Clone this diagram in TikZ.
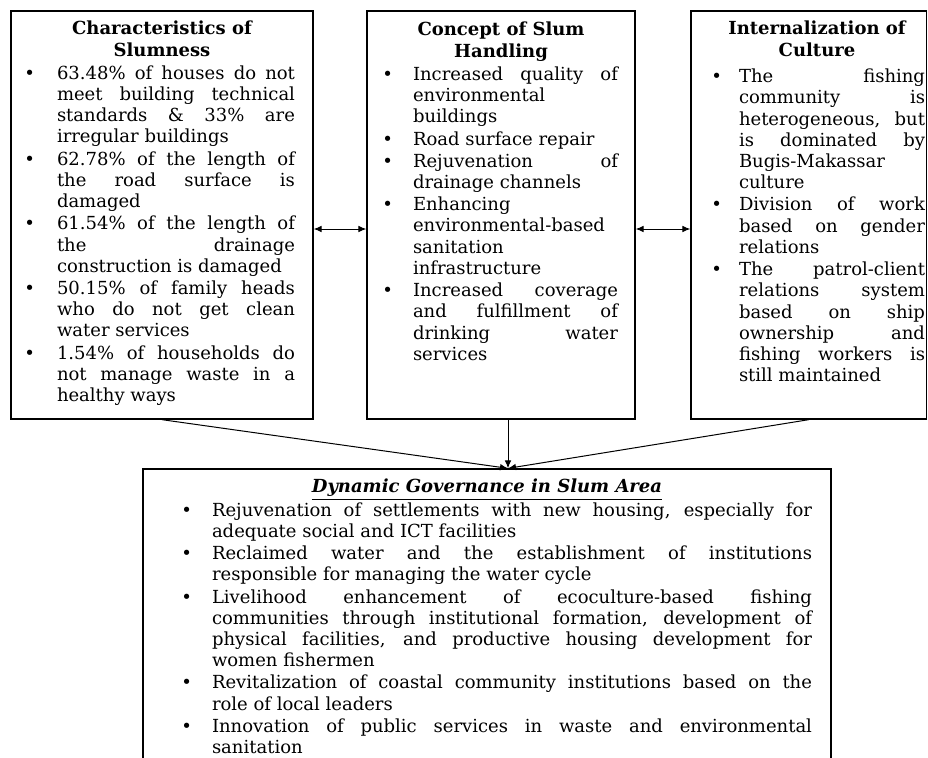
\documentclass[tikz,border=0pt]{standalone}
\usepackage{fontspec}
\setmainfont{DejaVu Serif}
\usepackage{enumitem}
\usetikzlibrary{arrows.meta}
\setlist[itemize]{label=\textbullet,topsep=1.5pt,partopsep=0pt,parsep=0pt,itemsep=0.8pt}
\tolerance=10000 \hyphenpenalty=10000 \exhyphenpenalty=10000 \hbadness=10000

\begin{document}
\begin{tikzpicture}[x=0.75pt,y=-0.75pt,>={Latex[length=6pt,width=5pt]},
  box/.style={draw,line width=1pt,minimum height=306pt,inner sep=0pt},
  boxtext/.style={anchor=north,inner sep=0pt,align=justify,font=\fontsize{13.5}{15.9}\selectfont}]
    \useasboundingbox (0,0) rectangle (928,757);
    \clip (0,0) rectangle (928,757);

    \node[box,minimum width=226.5pt] (charbox) at (162,215) {};
    \node[box,minimum width=201pt] (concbox) at (501,215) {};
    \node[box,minimum width=176.6pt] (cultbox) at (808.75,215) {};
    \node[box,minimum width=516pt,minimum height=240.75pt] (govbox) at (487,629.5) {};

    \node[boxtext,text width=199.5pt] (chartext) at (162,21) {%
      {\centering\bfseries Characteristics of\\ Slumness\par}
      \begin{itemize}[leftmargin=21pt,labelsep=16.5pt]
        \item 63.48\% of houses do not\linebreak meet building technical\linebreak standards \& 33\% are\linebreak irregular buildings
        \item 62.78\% of the length of\linebreak the road surface is\linebreak damaged
        \item 61.54\% of the length of\linebreak the drainage\linebreak construction is damaged
        \item 50.15\% of family heads\linebreak who do not get clean\linebreak water services
        \item 1.54\% of households do\linebreak not manage waste in a\linebreak healthy ways
      \end{itemize}};
    \node[boxtext,text width=175.5pt] (conctext) at (501,22) {%
      {\centering\bfseries Concept of Slum\\ Handling\par}
      \begin{itemize}[leftmargin=21.75pt,labelsep=15pt]
        \item Increased quality of\linebreak environmental\linebreak buildings
        \item Road surface repair
        \item Rejuvenation of\linebreak drainage channels
        \item Enhancing\linebreak environmental-based\linebreak sanitation\linebreak infrastructure
        \item Increased coverage\linebreak and fulfillment of\linebreak drinking water\linebreak services
      \end{itemize}};
    \node[boxtext,text width=162pt] (culttext) at (817,21) {%
      {\centering\bfseries Internalization of\\ Culture\par}
      \begin{itemize}[leftmargin=22.5pt,labelsep=12.75pt,topsep=4pt]
        \item The fishing\linebreak community is\linebreak heterogeneous, but\linebreak is dominated by\linebreak Bugis-Makassar\linebreak culture
        \item Division of work\linebreak based on gender\linebreak relations
        \item The patrol-client\linebreak relations system\linebreak based on ship\linebreak ownership and\linebreak fishing workers is\linebreak still maintained
      \end{itemize}};
    \node[boxtext,text width=487.5pt] (govtext) at (487,479) {%
      {\centering\underline{\textbf{\textit{Dynamic Governance in Slum Area}}}\par}
      \begin{itemize}[leftmargin=37.5pt,labelsep=15pt]
        \item Rejuvenation of settlements with new housing, especially for\linebreak adequate social and ICT facilities
        \item Reclaimed water and the establishment of institutions\linebreak responsible for managing the water cycle
        \item Livelihood enhancement of ecoculture-based fishing\linebreak communities through institutional formation, development of\linebreak physical facilities, and productive housing development for\linebreak women fishermen
        \item Revitalization of coastal community institutions based on the\linebreak role of local leaders
        \item Innovation of public services in waste and environmental\linebreak sanitation
      \end{itemize}};

    \coordinate (govtop) at ([xshift=15.75pt]govbox.north);

    \draw[<->,line width=0.75pt] ([yshift=-10.5pt]charbox.east) -- ([yshift=-10.5pt]concbox.west);
    \draw[<->,line width=0.75pt] ([yshift=-10.5pt]concbox.east) -- ([yshift=-10.5pt]cultbox.west);
    \draw[->,line width=0.75pt] (charbox.south) -- (govtop);
    \draw[->,line width=0.75pt] (concbox.south -| govtop) -- (govtop);
    \draw[->,line width=0.75pt] (cultbox.south) -- (govtop);
\end{tikzpicture}
\end{document}
